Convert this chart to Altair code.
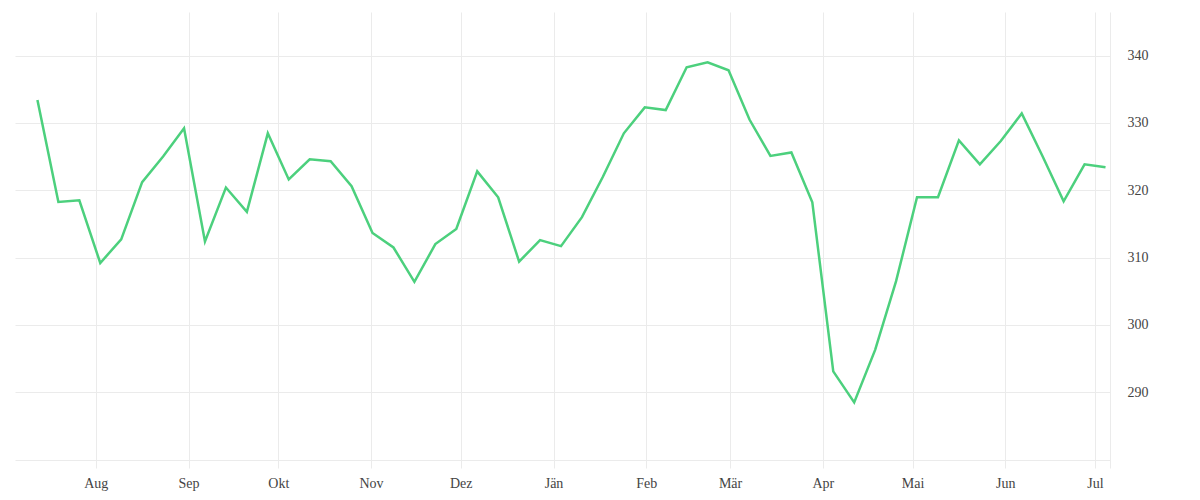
import altair as alt
import pandas as pd

dates = pd.date_range("2022-07-12", periods=52, freq="7D").strftime("%Y-%m-%dT12:00:00").tolist()
values = [
    333.4, 318.25, 318.5, 309.2, 312.7, 321.2, 325.0, 329.2, 312.4, 320.4,
    316.8, 328.45, 321.6, 324.6, 324.3, 320.6, 313.65, 311.5, 306.4, 312.0,
    314.25, 322.8, 318.95, 309.4, 312.6, 311.7, 316.0, 322.0, 328.45, 332.3,
    331.9, 338.25, 339.0, 337.8, 330.5, 325.1, 325.6, 318.2, 293.1, 288.5,
    296.3, 306.5, 318.95, 318.95, 327.4, 323.85, 327.3, 331.4, 325.0, 318.35,
    323.85, 323.4,
]
month_names = ["Jän", "Feb", "Mär", "Apr", "Mai", "Jun", "Jul", "Aug", "Sep", "Okt", "Nov", "Dez"]
y_ticks = [280, 290, 300, 310, 320, 330, 340]

df = pd.DataFrame({"date": dates, "value": values})

names_js = "[" + ",".join(f"'{m}'" for m in month_names) + "]"

chart = (
    alt.Chart(df)
    .mark_line(color="#4cd07d", strokeWidth=2.5)
    .encode(
        x=alt.X(
            "date:T",
            title=None,
            scale=alt.Scale(domain=[alt.DateTime(year=2022, month=7, date=5),
                                    alt.DateTime(year=2023, month=7, date=6)]),
            axis=alt.Axis(
                tickCount={"interval": "month", "step": 1},
                labelExpr=f"{names_js}[month(datum.value)]",
                domain=False,
                ticks=False,
                grid=True,
                gridColor="#ebebeb",
                labelPadding=8,
                labelFont="Liberation Serif",
                labelFontSize=14,
                labelColor="#444444",
            ),
        ),
        y=alt.Y(
            "value:Q",
            title=None,
            scale=alt.Scale(domain=[278.76, 346.46], nice=False, zero=False),
            axis=alt.Axis(
                orient="right",
                values=y_ticks,
                labelExpr="datum.value == 280 ? '' : datum.label",
                domain=True,
                domainColor="#ebebeb",
                ticks=False,
                grid=True,
                gridColor="#ebebeb",
                labelPadding=17,
                labelFont="Liberation Serif",
                labelFontSize=14,
                labelColor="#444444",
            ),
        ),
    )
    .properties(width=1095, height=456, padding={"left": 7, "top": 4, "right": 5, "bottom": 5})
    .configure_view(stroke=None)
)

chart.save("out.html", embed_options={"renderer": "svg", "actions": False})
